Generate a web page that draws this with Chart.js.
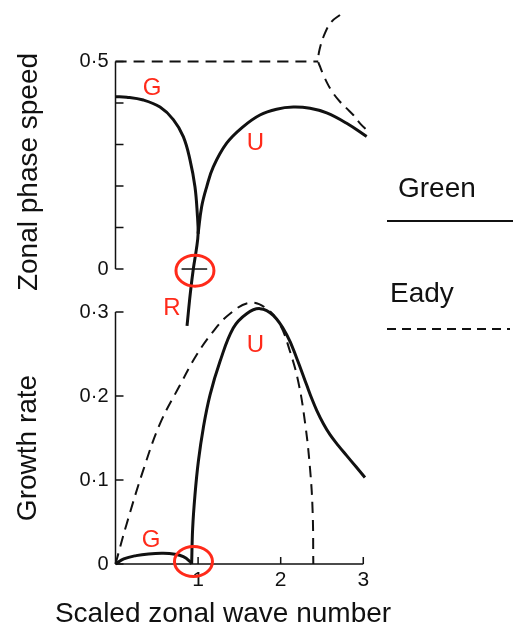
<!DOCTYPE html>
<html>
<head>
<meta charset="utf-8">
<title>Green and Eady modes</title>
<script src="https://cdn.jsdelivr.net/npm/chart.js@4.4.1/dist/chart.umd.min.js"></script>
<style>
  html, body { margin: 0; padding: 0; background: #fff; }
  #wrap { position: relative; width: 513px; height: 628px; }
  #wrap canvas { position: absolute; left: 0; top: 0; }
</style>
</head>
<body>
<div id="wrap">
  <canvas id="speedChart" width="513" height="628"></canvas>
  <canvas id="growthChart" width="513" height="628"></canvas>
</div>
<script>
// --- phase speed (upper panel) ---
// Green model: G branch, running down through the cusp into the R branch
const speedGreenGK = [0, 0.136, 0.337, 0.539, 0.7, 0.821, 0.902, 0.962, 0.99, 1.0, 0.978, 0.942, 0.905, 0.866];
const speedGreenG  = [0.415, 0.414, 0.407, 0.39, 0.36, 0.319, 0.263, 0.198, 0.134, 0.085, 0.046, 0, -0.06, -0.137];
// Green model: U branch
const speedGreenUK = [1.0, 1.043, 1.104, 1.184, 1.346, 1.547, 1.749, 1.95, 2.153, 2.355, 2.557, 2.799, 3.041];
const speedGreenU  = [0.085, 0.15, 0.198, 0.246, 0.303, 0.343, 0.371, 0.385, 0.39, 0.387, 0.376, 0.351, 0.319];
// Eady model: flat 0.5 up to the cutoff, then two real roots
const speedEadyFlatK = [0, 2.455];
const speedEadyFlat  = [0.5, 0.5];
const speedEadySplitK = [2.718, 2.617, 2.536, 2.47, 2.455, 2.476, 2.516, 2.576, 2.637, 2.718, 2.799, 2.879, 2.96, 3.06];
const speedEadySplit  = [0.612, 0.596, 0.568, 0.528, 0.5, 0.488, 0.468, 0.443, 0.423, 0.403, 0.387, 0.371, 0.351, 0.331];
// little cross mark at k = 1 on the zero line
const zeroMarkK = [0.8, 1.11];
const zeroMark  = [0, 0];

// --- growth rate (lower panel) ---
const growthGreenGK = [0, 0.1, 0.25, 0.4, 0.579, 0.72, 0.821, 0.902, 0.922];
const growthGreenG  = [0, 0.006, 0.01, 0.012, 0.0127, 0.0115, 0.0087, 0.003, 0];
const growthGreenUK = [0.922, 0.934, 0.962, 1.003, 1.063, 1.144, 1.265, 1.426, 1.588, 1.749, 1.91, 2.073, 2.194, 2.315, 2.376, 2.436, 2.517, 2.597, 2.698, 2.799, 2.91, 3.02];
const growthGreenU  = [0, 0.042, 0.082, 0.122, 0.162, 0.201, 0.241, 0.281, 0.298, 0.304, 0.296, 0.273, 0.245, 0.213, 0.197, 0.183, 0.167, 0.154, 0.141, 0.129, 0.116, 0.103];
const growthEadyK = [0, 0.136, 0.337, 0.539, 0.781, 0.983, 1.184, 1.386, 1.628, 1.83, 1.991, 2.113, 2.213, 2.294, 2.355, 2.387, 2.395];
const growthEady  = [0, 0.048, 0.112, 0.167, 0.213, 0.249, 0.277, 0.298, 0.311, 0.304, 0.285, 0.253, 0.217, 0.169, 0.114, 0.062, 0];

// axis ticks
const speedTicks = [0, 0.5];
const speedTickLabels = ['0', '0·5'];
const speedMinorTicks = [0, 0.1, 0.2, 0.3, 0.4, 0.5];
const growthTicks = [0, 0.1, 0.2, 0.3];
const growthTickLabels = ['0', '0·1', '0·2', '0·3'];
const waveTicks = [1, 2, 3];
const waveTickLabels = ['1', '2', '3'];

const ink = '#111';
const red = '#ff2a1a';
const FONT = '"Liberation Sans", Arial, Helvetica, sans-serif';
Chart.defaults.font.family = FONT;
Chart.defaults.color = ink;

const pts = (ks, vs) => ks.map((k, i) => ({ x: k, y: vs[i] }));

function curve(ks, vs, dashed) {
  return {
    data: pts(ks, vs),
    borderColor: ink,
    borderWidth: dashed ? 2 : 3,
    borderDash: dashed ? [11, 7] : [],
    pointRadius: 0,
    tension: 0.4,
    fill: false,
    clip: false
  };
}

// axis lines, inward ticks, titles, red letters and rings
const decor = {
  id: 'decor',
  afterDatasetsDraw(chart, args, o) {
    const { ctx } = chart;
    const xs = chart.scales.x, ys = chart.scales.y;
    const left = chart.chartArea.left;
    ctx.save();
    ctx.strokeStyle = ink;
    ctx.lineWidth = 1.5;
    ctx.setLineDash([]);

    if (o.yAxis) {
      const a = o.yAxis;
      ctx.beginPath();
      ctx.moveTo(left, ys.getPixelForValue(a.from));
      ctx.lineTo(left, ys.getPixelForValue(a.to));
      a.ticks.forEach(v => {
        const p = ys.getPixelForValue(v);
        ctx.moveTo(left, p);
        ctx.lineTo(left + 8, p);
      });
      ctx.stroke();
    }
    if (o.xAxis) {
      const a = o.xAxis;
      const base = ys.getPixelForValue(0);
      ctx.beginPath();
      ctx.moveTo(xs.getPixelForValue(a.from), base);
      ctx.lineTo(xs.getPixelForValue(a.to), base);
      a.ticks.forEach(v => {
        const p = xs.getPixelForValue(v);
        ctx.moveTo(p, base);
        ctx.lineTo(p, base - 7);
      });
      ctx.stroke();
    }

    ctx.fillStyle = ink;
    ctx.font = '28px ' + FONT;
    ctx.textAlign = 'center';
    ctx.textBaseline = 'alphabetic';
    (o.titles || []).forEach(t => {
      ctx.save();
      ctx.translate(t.x, t.y);
      if (t.vertical) ctx.rotate(-Math.PI / 2);
      ctx.fillText(t.text, 0, 0);
      ctx.restore();
    });

    ctx.fillStyle = red;
    ctx.font = '24px ' + FONT;
    (o.marks || []).forEach(m => {
      ctx.fillText(m.text, xs.getPixelForValue(m.k), ys.getPixelForValue(m.v));
    });

    ctx.strokeStyle = red;
    ctx.lineWidth = 3;
    (o.rings || []).forEach(r => {
      ctx.beginPath();
      ctx.ellipse(xs.getPixelForValue(r.k), ys.getPixelForValue(r.v), r.rx, r.ry, 0, 0, Math.PI * 2);
      ctx.stroke();
    });

    if (o.legend) {
      ctx.fillStyle = ink;
      ctx.strokeStyle = ink;
      ctx.lineWidth = 2;
      ctx.font = '28px ' + FONT;
      ctx.textAlign = 'left';
      o.legend.forEach(l => {
        ctx.fillText(l.text, l.textX, l.textY);
        ctx.setLineDash(l.dash);
        ctx.beginPath();
        ctx.moveTo(l.x0, l.lineY);
        ctx.lineTo(l.x1, l.lineY);
        ctx.stroke();
      });
      ctx.setLineDash([]);
    }
    ctx.restore();
  }
};

function yScale(min, max, ticks, labels) {
  return {
    type: 'linear',
    min: min,
    max: max,
    grid: { display: false, drawTicks: false },
    border: { display: false },
    afterBuildTicks: s => { s.ticks = ticks.map(v => ({ value: v })); },
    afterFit: s => { s.width = 115.5; s.paddingTop = 0; s.paddingBottom = 0; },
    ticks: {
      padding: 7,
      font: { size: 20 },
      color: ink,
      callback: v => labels[ticks.indexOf(v)]
    }
  };
}

const common = {
  responsive: false,
  animation: false,
  events: [],
  plugins: { legend: { display: false }, tooltip: { enabled: false } }
};

new Chart(document.getElementById('speedChart'), {
  type: 'line',
  data: {
    datasets: [
      curve(speedGreenGK, speedGreenG, false),
      curve(speedGreenUK, speedGreenU, false),
      curve(speedEadyFlatK, speedEadyFlat, true),
      curve(speedEadySplitK, speedEadySplit, true),
      Object.assign(curve(zeroMarkK, zeroMark, false), { borderWidth: 1.5 })
    ]
  },
  options: Object.assign({}, common, {
    layout: { padding: { left: 0, top: 0, right: 133.2, bottom: 288 } },
    scales: {
      x: { type: 'linear', min: 0, max: 3.2, display: false },
      y: yScale(-0.171, 0.648, speedTicks, speedTickLabels)
    },
    plugins: Object.assign({}, common.plugins, {
      decor: {
        yAxis: { from: 0, to: 0.5, ticks: speedMinorTicks },
        titles: [{ text: 'Zonal phase speed', x: 37, y: 172, vertical: true }],
        marks: [
          { text: 'G', k: 0.442, v: 0.419 },
          { text: 'U', k: 1.695, v: 0.287 },
          { text: 'R', k: 0.684, v: -0.111 }
        ],
        rings: [{ k: 0.962, v: -0.004, rx: 19, ry: 15.5 }],
        legend: [
          { text: 'Green', textX: 398, textY: 197, x0: 387, x1: 513, lineY: 221, dash: [] },
          { text: 'Eady', textX: 390, textY: 302, x0: 387, x1: 510, lineY: 329, dash: [9, 6] }
        ]
      }
    })
  }),
  plugins: [decor]
});

new Chart(document.getElementById('growthChart'), {
  type: 'line',
  data: {
    datasets: [
      curve(growthGreenGK, growthGreenG, false),
      curve(growthGreenUK, growthGreenU, false),
      curve(growthEadyK, growthEady, true)
    ]
  },
  options: Object.assign({}, common, {
    layout: { padding: { left: 0, top: 295.2, right: 133.2, bottom: 0 } },
    scales: {
      x: {
        type: 'linear',
        min: 0,
        max: 3.2,
        grid: { display: false, drawTicks: false },
        border: { display: false },
        afterBuildTicks: s => { s.ticks = waveTicks.map(v => ({ value: v })); },
        afterFit: s => { s.height = 64; s.paddingLeft = 0; s.paddingRight = 0; },
        ticks: {
          padding: 4,
          font: { size: 21 },
          color: ink,
          maxRotation: 0,
          callback: v => waveTickLabels[waveTicks.indexOf(v)]
        }
      },
      y: yScale(0, 0.32, growthTicks, growthTickLabels)
    },
    plugins: Object.assign({}, common.plugins, {
      decor: {
        yAxis: { from: 0, to: 0.3, ticks: growthTicks },
        xAxis: { from: 0, to: 3, ticks: waveTicks },
        titles: [
          { text: 'Growth rate', x: 36, y: 448, vertical: true },
          { text: 'Scaled zonal wave number', x: 223, y: 622 }
        ],
        marks: [
          { text: 'U', k: 1.695, v: 0.252 },
          { text: 'G', k: 0.43, v: 0.02 }
        ],
        rings: [{ k: 0.944, v: 0.003, rx: 19, ry: 15 }]
      }
    })
  }),
  plugins: [decor]
});
</script>
</body>
</html>
